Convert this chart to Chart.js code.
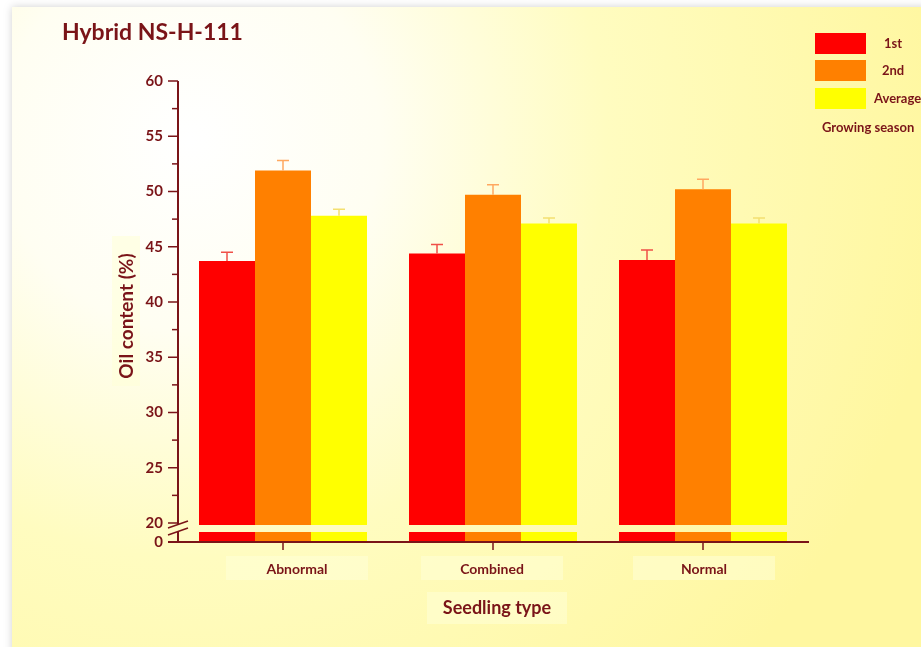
<!DOCTYPE html>
<html>
<head>
<meta charset="utf-8">
<script src="https://cdn.jsdelivr.net/npm/chart.js@4/dist/chart.umd.min.js"></script>
<style>
  body { margin: 0; background: #ffffff; }
  #wrap { position: relative; width: 921px; height: 647px; overflow: hidden; }
</style>
</head>
<body>
<div id="wrap"><canvas id="oil" width="921" height="647"></canvas></div>
<script>
var categories = ['Abnormal', 'Combined', 'Normal'];
var seasonLabels = ['1st', '2nd', 'Average'];
var firstSeason = [43.7, 44.4, 43.8];
var secondSeason = [51.9, 49.7, 50.2];
var averageSeason = [47.8, 47.1, 47.1];
var firstErr = [0.8, 0.8, 0.9];
var secondErr = [0.9, 0.9, 0.9];
var averageErr = [0.6, 0.5, 0.5];
var yTicks = [20, 25, 30, 35, 40, 45, 50, 55, 60];
// value that stands for 0 below the axis break
var zeroAt = 18.28;

var textColor = '#7a1418';
var fontName = 'Lato, "Open Sans", sans-serif';
// label boxes sit a little off the tick marks in the original
var labelShift = [14, -1, 1];

function bgGradient(ctx) {
	var g = ctx.createRadialGradient(190, 140, 0, 190, 140, 760);
	g.addColorStop(0, '#ffffff');
	g.addColorStop(0.25, '#fffef2');
	g.addColorStop(0.55, '#fffcc0');
	g.addColorStop(1, '#fff7a0');
	return g;
}

var decor = {
	id: 'decor',
	beforeDraw: function(chart) {
		var ctx = chart.ctx;
		ctx.save();
		ctx.fillStyle = '#ffffff';
		ctx.fillRect(0, 0, chart.width, chart.height);
		ctx.shadowColor = 'rgba(0,0,0,0.18)';
		ctx.shadowBlur = 8;
		ctx.fillStyle = bgGradient(ctx);
		ctx.fillRect(12, 7, chart.width, chart.height);
		ctx.restore();
	},
	afterDatasetsDraw: function(chart) {
		var ctx = chart.ctx;
		var ys = chart.scales.y;
		var xs = chart.scales.x;
		var area = chart.chartArea;
		var y20 = ys.getPixelForValue(20);
		var yBase = ys.getPixelForValue(zeroAt);
		var axisX = area.left;
		ctx.save();

		// error bars
		var errs = [firstErr, secondErr, averageErr];
		var errColors = ['#f05048', '#ffa860', '#f4e070'];
		chart.data.datasets.forEach(function(ds, i) {
			var meta = chart.getDatasetMeta(i);
			meta.data.forEach(function(bar, j) {
				var top = ys.getPixelForValue(ds.data[j] + errs[i][j]);
				ctx.strokeStyle = errColors[i];
				ctx.lineWidth = 1.5;
				ctx.beginPath();
				ctx.moveTo(bar.x, bar.y);
				ctx.lineTo(bar.x, top);
				ctx.moveTo(bar.x - 6, top);
				ctx.lineTo(bar.x + 6, top);
				ctx.stroke();
			});
		});

		// axis break band
		ctx.fillStyle = bgGradient(ctx);
		ctx.fillRect(axisX + 1, y20 + 2, area.right - axisX, 7);

		// label boxes
		ctx.fillStyle = 'rgba(255,255,215,0.55)';
		categories.forEach(function(c, i) {
			var cx = xs.getPixelForValue(i) + labelShift[i];
			ctx.fillRect(cx - 71, 556, 142, 24);
		});
		ctx.fillRect(427, 592, 140, 32);
		ctx.fillRect(112, 236, 28, 150);

		// y axis
		ctx.strokeStyle = textColor;
		ctx.lineWidth = 2;
		ctx.beginPath();
		ctx.moveTo(axisX, ys.getPixelForValue(60));
		ctx.lineTo(axisX, y20 + 2);
		ctx.moveTo(axisX, y20 + 9);
		ctx.lineTo(axisX, yBase);
		ctx.stroke();
		ctx.lineWidth = 1.5;
		for (var v = 20; v <= 60; v += 2.5) {
			var py = ys.getPixelForValue(v);
			var major = v % 5 === 0;
			ctx.beginPath();
			ctx.moveTo(axisX - (major ? 10 : 6), py);
			ctx.lineTo(axisX, py);
			ctx.stroke();
		}
		// break marks
		ctx.beginPath();
		ctx.moveTo(axisX - 10, y20 + 5);
		ctx.lineTo(axisX + 10, y20 - 2);
		ctx.moveTo(axisX - 10, y20 + 12);
		ctx.lineTo(axisX + 10, y20 + 5);
		ctx.stroke();

		// x axis
		ctx.lineWidth = 2;
		ctx.beginPath();
		ctx.moveTo(axisX - 10, yBase);
		ctx.lineTo(area.right + 1, yBase);
		ctx.stroke();
		ctx.lineWidth = 1.5;
		categories.forEach(function(c, i) {
			var cx = xs.getPixelForValue(i);
			ctx.beginPath();
			ctx.moveTo(cx, yBase);
			ctx.lineTo(cx, yBase + 8);
			ctx.stroke();
		});

		// tick labels
		ctx.fillStyle = textColor;
		ctx.font = 'bold 15px ' + fontName;
		ctx.textAlign = 'right';
		ctx.textBaseline = 'middle';
		yTicks.forEach(function(t) {
			ctx.fillText(String(t), axisX - 15, ys.getPixelForValue(t));
		});
		ctx.fillText('0', axisX - 15, yBase);

		ctx.font = 'bold 14px ' + fontName;
		ctx.textAlign = 'center';
		categories.forEach(function(c, i) {
			ctx.fillText(c, xs.getPixelForValue(i) + labelShift[i], 569);
		});

		// titles
		ctx.font = 'bold 18px ' + fontName;
		ctx.fillText('Seedling type', 497, 608);
		ctx.save();
		ctx.translate(127, 316);
		ctx.rotate(-Math.PI / 2);
		ctx.font = 'bold 19px ' + fontName;
		ctx.fillText('Oil content (%)', 0, 0);
		ctx.restore();
		ctx.textAlign = 'left';
		ctx.font = 'bold 23px ' + fontName;
		ctx.fillText('Hybrid NS-H-111', 62, 33);

		// legend
		var legendColors = ['#ff0000', '#ff8000', '#ffff00'];
		var legendY = [33, 60, 88];
		ctx.font = 'bold 13px ' + fontName;
		seasonLabels.forEach(function(s, i) {
			ctx.fillStyle = legendColors[i];
			ctx.fillRect(815, legendY[i], 51, 21);
			ctx.fillStyle = textColor;
			ctx.textAlign = i === 2 ? 'left' : 'center';
			ctx.fillText(s, i === 2 ? 874 : 893, legendY[i] + 11);
		});
		ctx.textAlign = 'left';
		ctx.fillText('Growing season', 822, 128);
		ctx.restore();
	}
};

var ctx = document.getElementById('oil').getContext('2d');
var oilChart = new Chart(ctx, {
	type: 'bar',
	data: {
		labels: categories,
		datasets: [
			{ label: seasonLabels[0], data: firstSeason, backgroundColor: '#ff0000' },
			{ label: seasonLabels[1], data: secondSeason, backgroundColor: '#ff8000' },
			{ label: seasonLabels[2], data: averageSeason, backgroundColor: '#ffff00' }
		]
	},
	options: {
		responsive: false,
		animation: false,
		layout: { padding: { left: 178, right: 113, top: 81, bottom: 105 } },
		datasets: { bar: { categoryPercentage: 0.8, barPercentage: 1.0 } },
		plugins: { legend: { display: false }, tooltip: { enabled: false } },
		scales: {
			x: { display: false },
			y: { display: false, min: zeroAt, max: 60 }
		}
	},
	plugins: [decor]
});
</script>
</body>
</html>
